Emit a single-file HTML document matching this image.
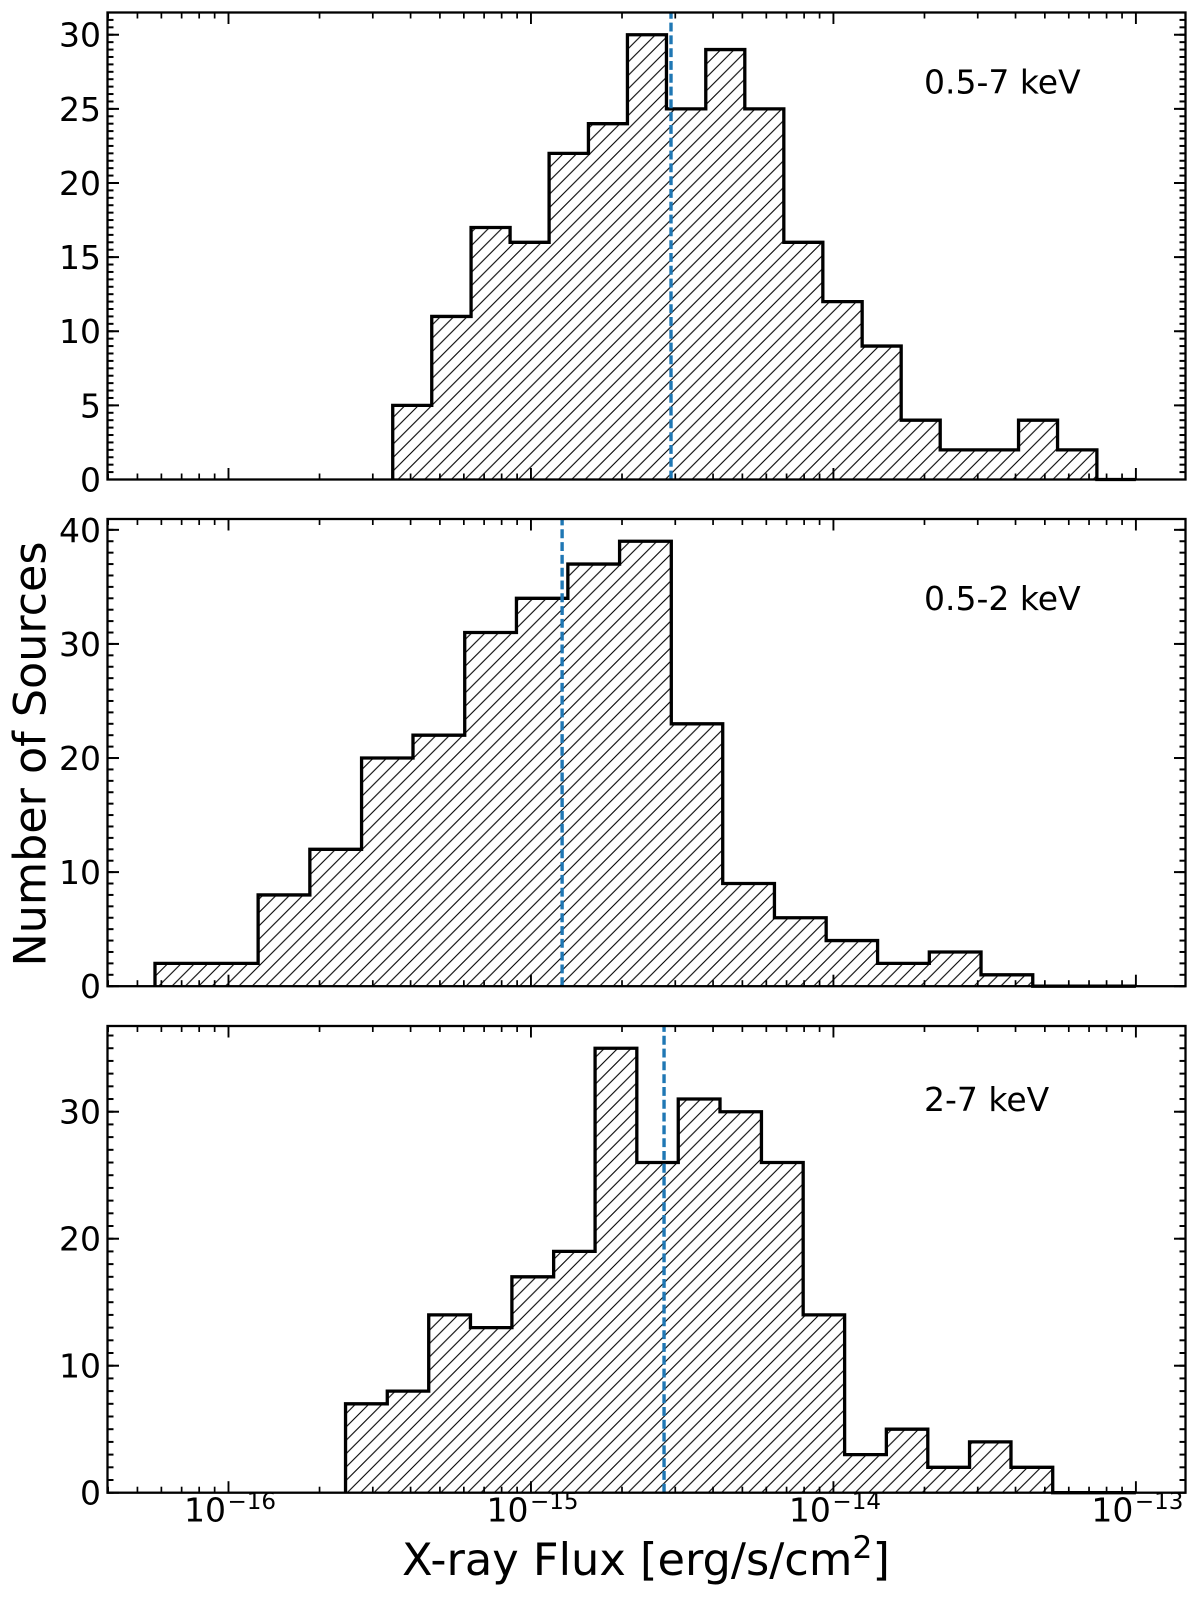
<!DOCTYPE html>
<html lang="en">
<head>
<meta charset="utf-8">
<title>X-ray Flux Histograms</title>
<style>
  html, body { margin: 0; padding: 0; background: #fff; }
  svg { display: block; filter: blur(0.35px); }
  text { font-family: "DejaVu Sans", "Liberation Sans", sans-serif; fill: #000; }
</style>
</head>
<body>
<svg id="chart" xmlns="http://www.w3.org/2000/svg" width="1200" height="1600" viewBox="0 0 1200 1600">
  <defs>
    <pattern id="hatch" patternUnits="userSpaceOnUse" width="13.368" height="13.368" patternTransform="translate(-4.9 0)">
      <path d="M-1 1L1 -1M0 13.368L13.368 0M12.368 14.368L14.368 12.368" stroke="#000" stroke-width="1.1" fill="none"></path>
    </pattern>
  </defs>
  <rect x="0" y="0" width="1200" height="1600" fill="#fff"></rect>
  <text transform="translate(45.5 754) rotate(-90)" text-anchor="middle" font-size="44.4">Number of Sources</text>
  <text x="402" y="1575" font-size="44.7">X-ray Flux [erg/s/cm<tspan font-size="31.5" dy="-17">2</tspan><tspan dy="17">]</tspan></text>
</svg>
<script>
// Shared axis values
const xMajorExponents = [-16, -15, -14, -13];
const xMinorMultipliers = [2, 3, 4, 5, 6, 7, 8, 9];
const xLogRange = [-16.4, -12.836];

// Panel labels
const bandLabels = ["0.5-7 keV", "0.5-2 keV", "2-7 keV"];

// Bin edges (log10 of flux)
const binEdgesBroad = [-15.457, -15.328, -15.198, -15.069, -14.940, -14.810, -14.681, -14.552, -14.422, -14.293, -14.164, -14.035, -13.905, -13.776, -13.647, -13.517, -13.388, -13.259, -13.129, -13.0];
const binEdgesSoft = [-16.243, -16.072, -15.902, -15.731, -15.560, -15.390, -15.219, -15.048, -14.878, -14.707, -14.536, -14.366, -14.195, -14.024, -13.854, -13.683, -13.512, -13.341, -13.171, -13.0];
const binEdgesHard = [-15.613, -15.475, -15.338, -15.200, -15.063, -14.925, -14.788, -14.650, -14.513, -14.375, -14.238, -14.100, -13.963, -13.825, -13.688, -13.550, -13.413, -13.275, -13.138, -13.0];

// Counts per bin
const countsBroad = [5, 11, 17, 16, 22, 24, 30, 25, 29, 25, 16, 12, 9, 4, 2, 2, 4, 2, 0];
const countsSoft = [2, 2, 8, 12, 20, 22, 31, 34, 37, 39, 23, 9, 6, 4, 2, 3, 1, 0, 0];
const countsHard = [7, 8, 14, 13, 17, 19, 35, 26, 31, 30, 26, 14, 3, 5, 2, 4, 2, 0, 0];

// Median flux (log10)
const medianLogFlux = [-14.537, -14.897, -14.560];

// Y axis tick labels and limits
const yTicksBroad = [0, 5, 10, 15, 20, 25, 30];
const yTicksSoft = [0, 10, 20, 30, 40];
const yTicksHard = [0, 10, 20, 30];
const yLimits = [31.5, 40.95, 36.75];
const yMinorSteps = [0.5, 1, 1];

const binEdgeSets = [binEdgesBroad, binEdgesSoft, binEdgesHard];
const countSets = [countsBroad, countsSoft, countsHard];
const yTickSets = [yTicksBroad, yTicksSoft, yTicksHard];

const NS = "http://www.w3.org/2000/svg";
const svg = document.getElementById("chart");
const plotLeft = 107.5;
const plotRight = 1185.5;
const plotTops = [12.5, 519, 1026];
const plotBottoms = [479.5, 986.2, 1492.7];
const labelBaselines = [93.3, 610, 1111];

function make(tag, attrs, parent) {
  const node = document.createElementNS(NS, tag);
  for (const key in attrs) node.setAttribute(key, attrs[key]);
  parent.appendChild(node);
  return node;
}

function xScale(logValue) {
  return plotLeft + (logValue - xLogRange[0]) / (xLogRange[1] - xLogRange[0]) * (plotRight - plotLeft);
}

function yScaleFor(p) {
  return function (value) {
    return plotBottoms[p] - value / yLimits[p] * (plotBottoms[p] - plotTops[p]);
  };
}

function tickLine(parent, x1, y1, x2, y2, width) {
  return make("line", { x1: x1, y1: y1, x2: x2, y2: y2, stroke: "#000", "stroke-width": width }, parent);
}

function drawPanel(p) {
  const yScale = yScaleFor(p);
  const top = plotTops[p];
  const bottom = plotBottoms[p];

  const group = make("g", {}, svg);
  
  

  // Step outline path from the bin arrays
  const edges = binEdgeSets[p];
  const counts = countSets[p];
  let d = "M" + xScale(edges[0]).toFixed(2) + " " + yScale(0).toFixed(2);
  counts.forEach(function (count, i) {
    d += "L" + xScale(edges[i]).toFixed(2) + " " + yScale(count).toFixed(2);
    d += "L" + xScale(edges[i + 1]).toFixed(2) + " " + yScale(count).toFixed(2);
  });
  d += "L" + xScale(edges[edges.length - 1]).toFixed(2) + " " + yScale(0).toFixed(2);

  const hatchArea = make("path", { d: d + "Z", fill: "url(#hatch)", stroke: "none" }, group);
  
  

  const outline = make("path", { d: d, fill: "none", stroke: "#000", "stroke-width": 3.3, "stroke-linejoin": "miter" }, group);
  
  

  // Median marker
  const medianX = xScale(medianLogFlux[p]);
  const median = make("line", { x1: medianX, y1: bottom, x2: medianX, y2: top, stroke: "#1f77b4", "stroke-width": 3.4, "stroke-dasharray": "8.9 3.9" }, group);
  
  

  // X ticks on the bottom and top spines
  xMajorExponents.forEach(function (exponent) {
    const x = xScale(exponent);
    const lower = tickLine(group, x, bottom, x, bottom - 11.5, 1.9);
    
    
    const upper = tickLine(group, x, top, x, top + 11.5, 1.9);
    
    
    xMinorMultipliers.forEach(function (multiplier) {
      const mx = xScale(exponent - 1 + Math.log10(multiplier));
      if (mx < plotLeft || mx > plotRight) return;
      const minorLower = tickLine(group, mx, bottom, mx, bottom - 6, 1.7);
      
      
      const minorUpper = tickLine(group, mx, top, mx, top + 6, 1.7);
      
      
    });
  });

  // Y minor ticks on both spines
  const minorStep = yMinorSteps[p];
  for (let n = 0; n * minorStep <= yLimits[p]; n++) {
    const y = yScale(n * minorStep);
    const minorLeft = tickLine(group, plotLeft, y, plotLeft + 6, y, 2);
    
    
    const minorRight = tickLine(group, plotRight, y, plotRight - 6, y, 2);
    
    
  }

  // Y major ticks and labels
  yTickSets[p].forEach(function (value) {
    const y = yScale(value);
    const majorLeft = tickLine(group, plotLeft, y, plotLeft + 11.5, y, 2);
    
    
    const majorRight = tickLine(group, plotRight, y, plotRight - 11.5, y, 2);
    
    
    const label = make("text", { x: 101, y: y + 12, "text-anchor": "end", "font-size": 33 }, group);
    
    
    label.textContent = String(value);
  });

  // Spines
  const frame = make("rect", { x: plotLeft, y: top, width: plotRight - plotLeft, height: bottom - top, fill: "none", stroke: "#000", "stroke-width": 2.3 }, group);
  
  

  // Band label
  const band = make("text", { x: 924, y: labelBaselines[p], "font-size": 33 }, group);
  
  
  band.textContent = bandLabels[p];
}

[0, 1, 2].forEach(drawPanel);

// X tick labels sit under the bottom panel only
xMajorExponents.forEach(function (exponent) {
  const x = xScale(exponent);
  const label = make("text", { x: x - 44.5, y: 1521.5, "font-size": 33 }, svg);
  
  
  label.textContent = "10";
  const power = make("tspan", { "font-size": 23, dy: -12.5, dx: 1.5 }, label);
  
  
  power.textContent = "\u2212" + Math.abs(exponent);
});
</script>
</body>
</html>
